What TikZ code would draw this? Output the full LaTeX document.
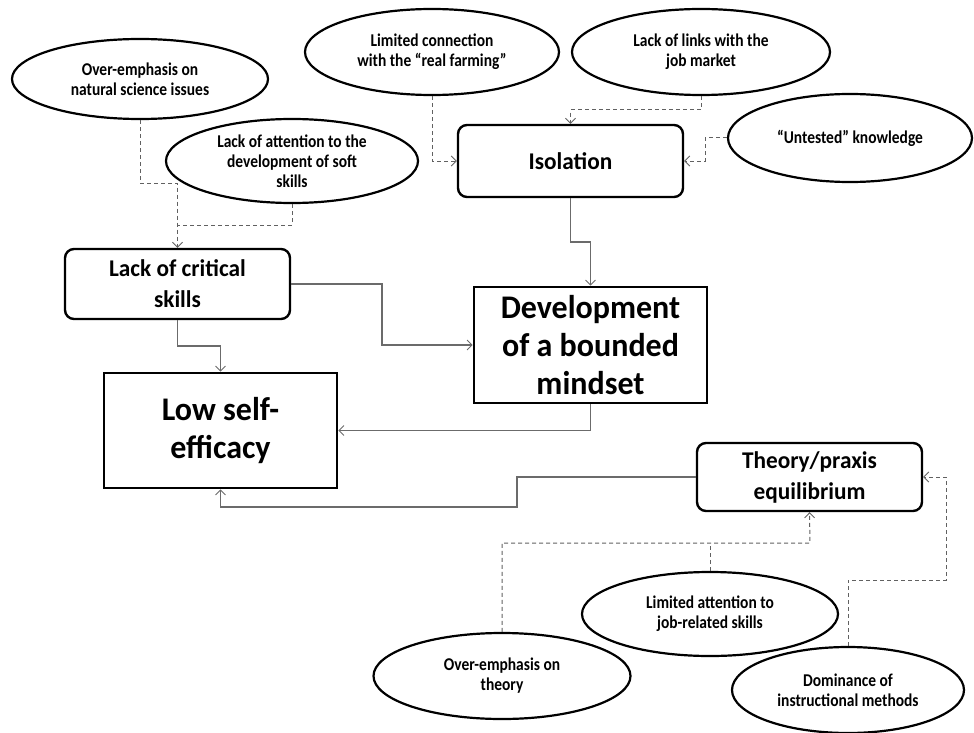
\documentclass[tikz,border=0pt]{standalone}
\usepackage{fontspec}
\setmainfont{Carlito}
\newfontfamily\ellfont[FakeStretch=0.86]{Carlito}
\newfontfamily\boxfont[FakeStretch=0.97]{Carlito}
\usetikzlibrary{shapes.geometric,arrows.meta}
\begin{document}
\begin{tikzpicture}[x=1pt,y=-1pt,
  ell/.style={ellipse,draw=black,line width=2.2pt,inner sep=0pt,align=center,
     font=\ellfont\bfseries\fontsize{18}{20}\selectfont},
  rbox/.style={draw=black,line width=2.4pt,rounded corners=9pt,inner sep=0pt,align=center,
     font=\boxfont\bfseries\fontsize{24}{31}\selectfont},
  bigbox/.style={draw=black,line width=2.6pt,inner sep=0pt,align=center,
     font=\boxfont\bfseries\fontsize{33}{38}\selectfont},
  tip/.style={-{Straight Barb[length=5pt,width=10pt,line width=0.9pt]}},
  sol/.style={draw=black!58,line width=1.2pt},
  dsh/.style={draw=black!62,line width=1pt,dash pattern=on 4pt off 3pt}]
\useasboundingbox (0,0) rectangle (974,733);

% ellipses
\node[ell,minimum width=256pt,minimum height=80pt] (A) at (140,79) {Over-emphasis on\\natural science issues};
\node[ell,minimum width=252pt,minimum height=84pt] (B) at (292,161) {Lack of attention to the\\development of soft\\skills};
\node[ell,minimum width=254pt,minimum height=86pt] (C) at (432,52) {Limited connection\\with the “real farming”};
\node[ell,minimum width=258pt,minimum height=86pt] (D) at (701,52) {Lack of links with the\\job market};
\node[ell,minimum width=244pt,minimum height=88pt] (E) at (850,138) {“Untested” knowledge};
\node[ell,minimum width=257pt,minimum height=86pt] (F) at (502,676) {Over-emphasis on\\theory};
\node[ell,minimum width=256pt,minimum height=84pt] (G) at (710,614) {Limited attention to\\job-related skills};
\node[ell,minimum width=232pt,minimum height=86pt] (H) at (848,690) {Dominance of\\instructional methods};

% boxes
\node[rbox,minimum width=225pt,minimum height=70pt] (lack) at (177.5,284) {Lack of critical\\skills};
\node[rbox,minimum width=225pt,minimum height=72pt] (iso) at (570.5,161) {Isolation};
\node[rbox,minimum width=225pt,minimum height=68pt] (theory) at (809.5,477) {Theory/praxis\\equilibrium};
\node[bigbox,minimum width=233pt,minimum height=116pt] (dev) at (590.5,345) {Development\\of a bounded\\mindset};
\node[bigbox,minimum width=233pt,minimum height=115pt] (low) at (220.5,430.5) {Low self-\\efficacy};

% junction coordinates
\coordinate (j1) at (177.5,183);
\coordinate (j2) at (177.5,225);
\coordinate (j3) at (570.5,110);
\coordinate (j4) at (705,161);
\coordinate (j5) at (570.5,242);
\coordinate (j6) at (382,345);
\coordinate (j7) at (177.5,346);
\coordinate (j9) at (517,507);
\coordinate (j11) at (810,543);
\coordinate (j12) at (946,580);

% dashed connectors
\draw[dsh,tip] (A.south) |- (j1) -- (lack.north);
\draw[dsh] (B.south) |- (j2);
\draw[dsh,tip] (C.south) |- (iso.west);
\draw[dsh,tip] (D.south) |- (j3) -- (iso.north);
\draw[dsh,tip] (E.west) -| (j4) -- (iso.east);
\draw[dsh,tip] (F.north) |- (j11) -- (theory.south);
\draw[dsh] (G.north) -- (G.north |- j11);
\draw[dsh,tip] (H.north) |- (j12) |- (theory.east);

% solid connectors
\draw[sol,tip] (iso.south) -- (j5) -| (dev.north);
\draw[sol,tip] (lack.east) -| (j6) -- (dev.west);
\draw[sol,tip] (lack.south) -- (j7) -| (low.north);
\draw[sol,tip] (dev.south) |- (low.east);
\draw[sol,tip] (theory.west) -| (j9) -| (low.south);
\end{tikzpicture}
\end{document}
